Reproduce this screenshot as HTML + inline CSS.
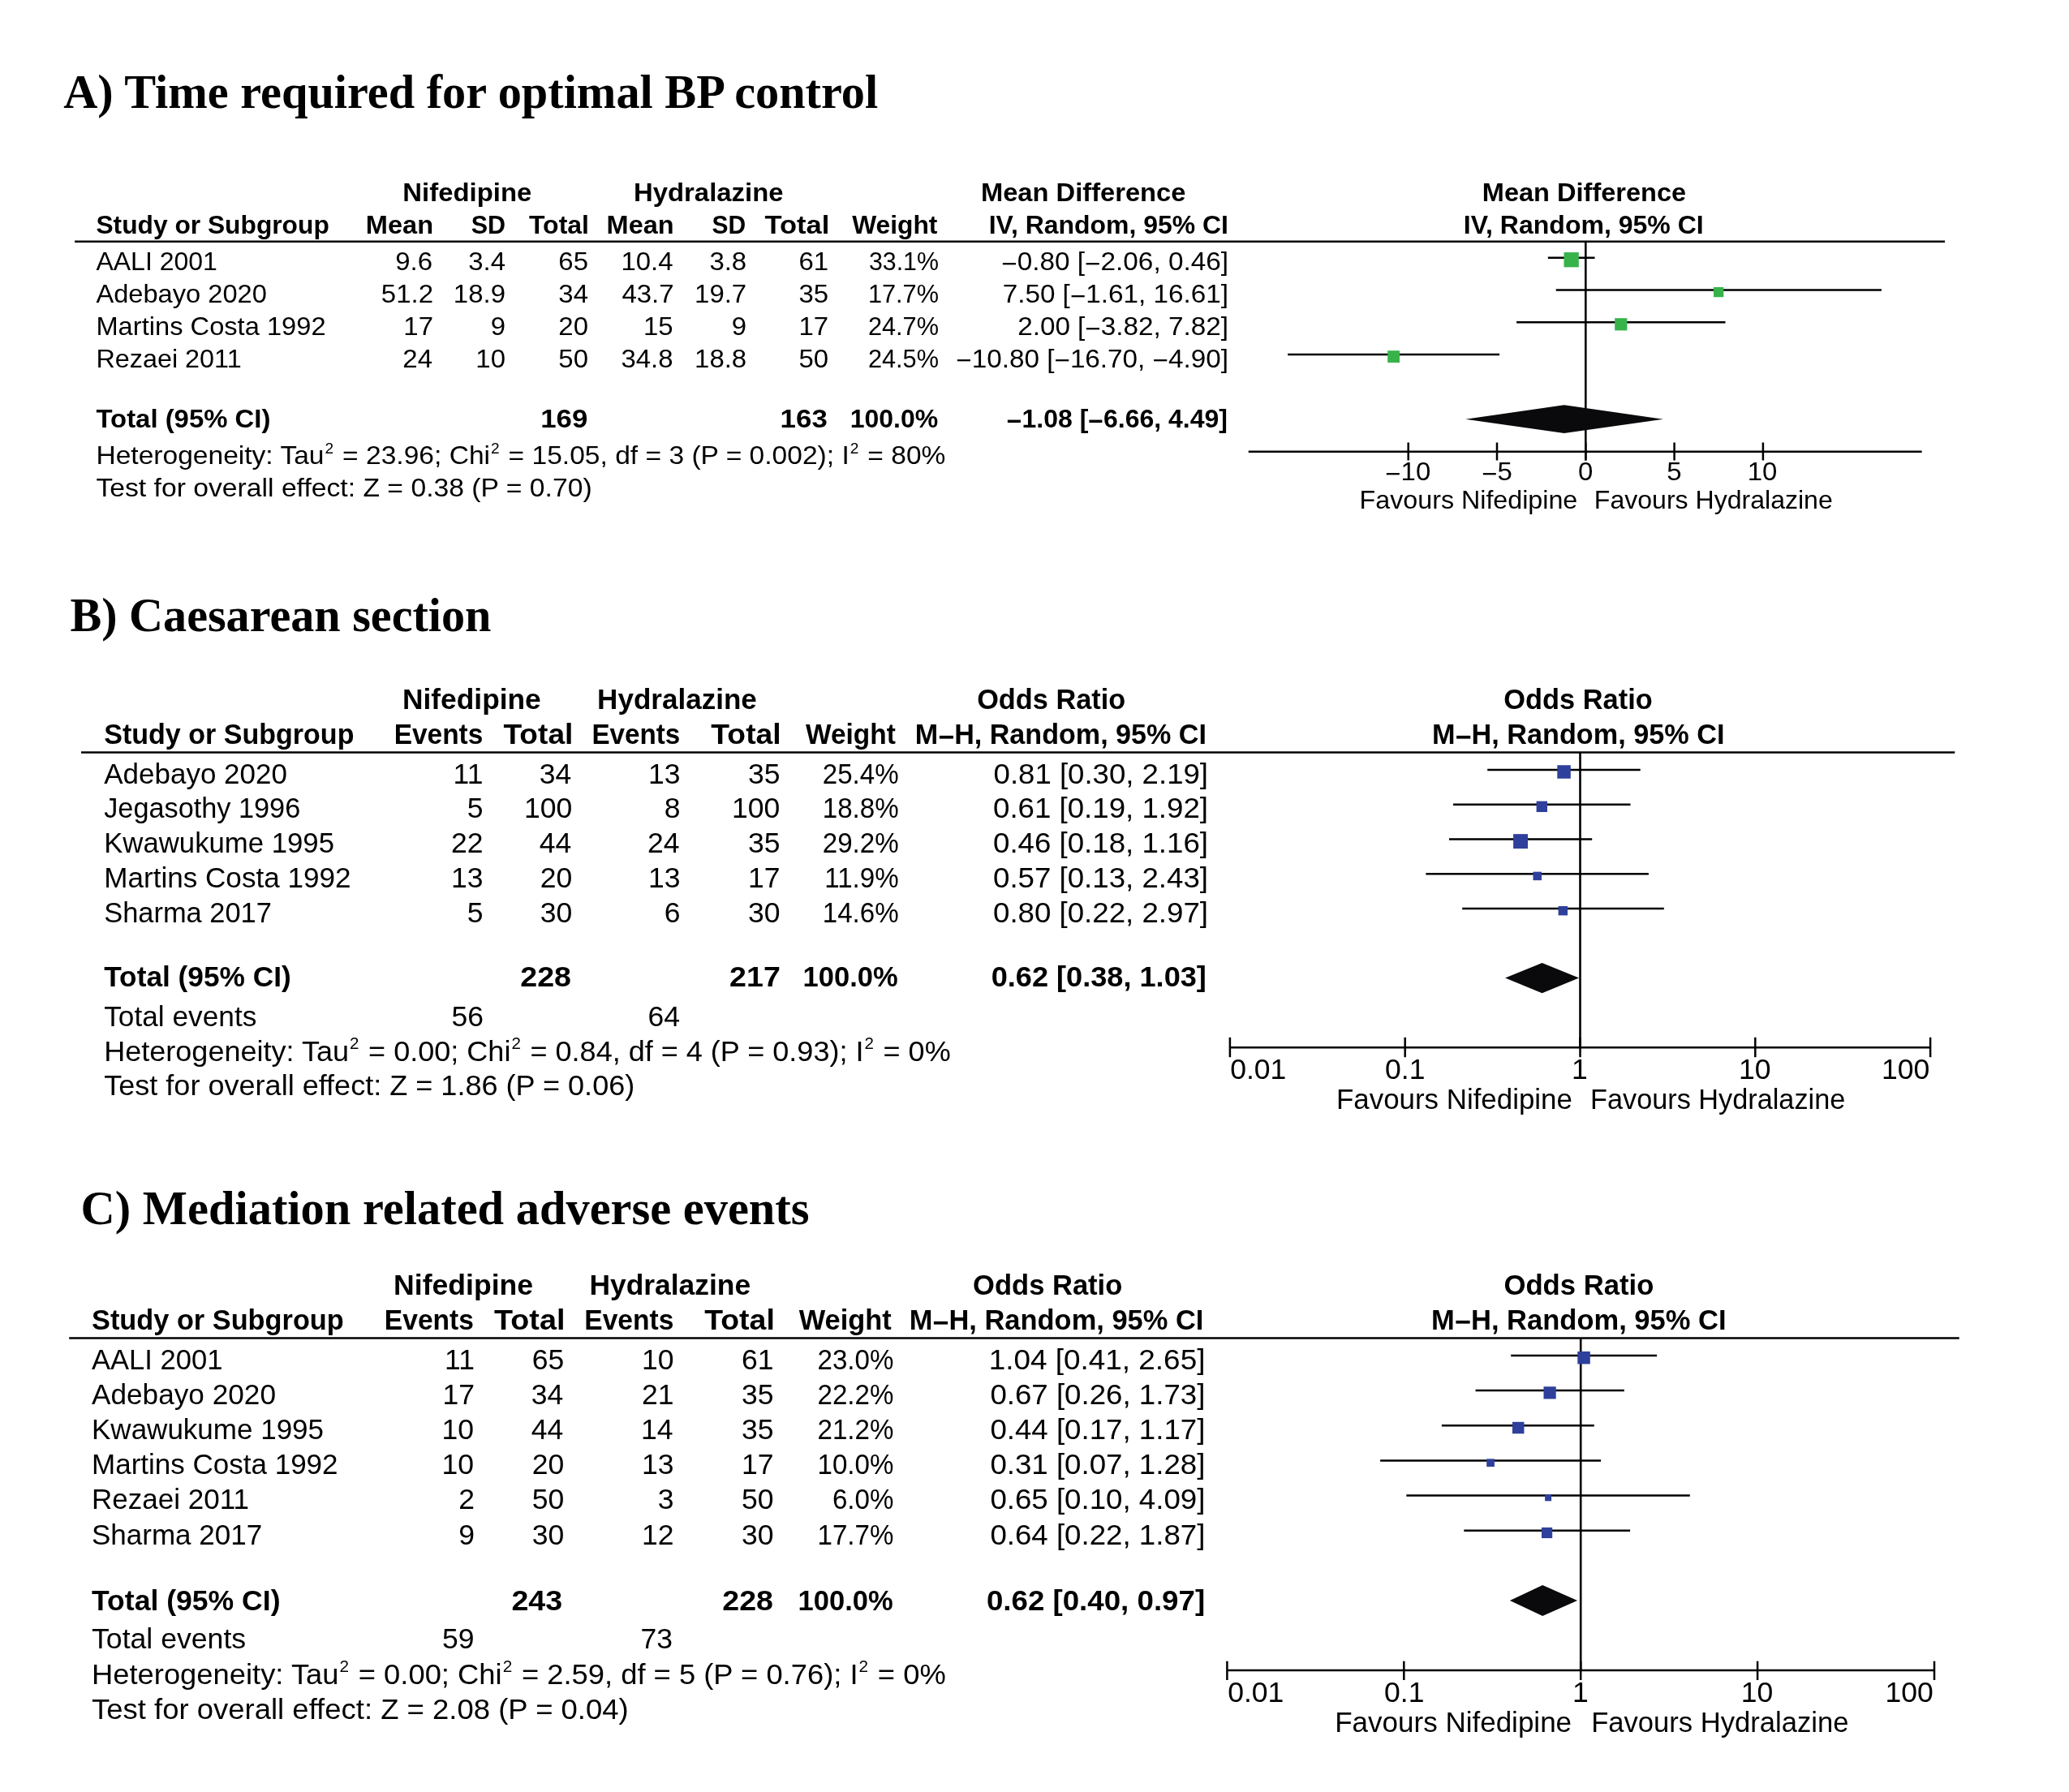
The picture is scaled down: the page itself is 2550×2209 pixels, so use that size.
<!DOCTYPE html>
<html><head><meta charset="utf-8"><style>
html,body{margin:0;padding:0;background:#fff;}
svg{display:block;will-change:transform;}
text{fill:#000;}
</style></head><body>
<svg width="2550" height="2209" viewBox="0 0 2550 2209">
<rect width="2550" height="2209" fill="#fff"/>
<g id="shapes">
<line x1="92.10" y1="297.70" x2="2397.00" y2="297.70" stroke="#000" stroke-width="2.5"/>
<line x1="1954.30" y1="297.70" x2="1954.30" y2="567.50" stroke="#000" stroke-width="2.6"/>
<line x1="1538.70" y1="556.70" x2="2368.60" y2="556.70" stroke="#000" stroke-width="2.5"/>
<line x1="1735.70" y1="545.50" x2="1735.70" y2="567.50" stroke="#000" stroke-width="2.5"/>
<line x1="1845.00" y1="545.50" x2="1845.00" y2="567.50" stroke="#000" stroke-width="2.5"/>
<line x1="1954.30" y1="545.50" x2="1954.30" y2="567.50" stroke="#000" stroke-width="2.5"/>
<line x1="2063.60" y1="545.50" x2="2063.60" y2="567.50" stroke="#000" stroke-width="2.5"/>
<line x1="2172.90" y1="545.50" x2="2172.90" y2="567.50" stroke="#000" stroke-width="2.5"/>
<line x1="1907.80" y1="317.70" x2="1965.50" y2="317.70" stroke="#000" stroke-width="2.5"/>
<rect x="1927.50" y="311.05" width="18.30" height="18.30" fill="#37b34a"/>
<line x1="1917.70" y1="357.40" x2="2318.90" y2="357.40" stroke="#000" stroke-width="2.5"/>
<rect x="2112.00" y="353.95" width="12.30" height="12.30" fill="#37b34a"/>
<line x1="1869.10" y1="397.30" x2="2126.50" y2="397.30" stroke="#000" stroke-width="2.5"/>
<rect x="1990.20" y="392.20" width="15.20" height="15.20" fill="#37b34a"/>
<line x1="1587.20" y1="437.10" x2="1848.10" y2="437.10" stroke="#000" stroke-width="2.5"/>
<rect x="1710.20" y="432.20" width="14.80" height="14.80" fill="#37b34a"/>
<polygon points="1806.30,516.70 1927.80,499.30 2049.90,516.70 1927.80,534.10" fill="#0a0a0c"/>
<line x1="100.00" y1="927.40" x2="2409.30" y2="927.40" stroke="#000" stroke-width="2.5"/>
<line x1="1947.50" y1="927.40" x2="1947.50" y2="1291.20" stroke="#000" stroke-width="2.6"/>
<line x1="1515.20" y1="1291.20" x2="2378.80" y2="1291.20" stroke="#000" stroke-width="2.5"/>
<line x1="1515.90" y1="1278.80" x2="1515.90" y2="1303.20" stroke="#000" stroke-width="2.5"/>
<line x1="1731.70" y1="1278.80" x2="1731.70" y2="1303.20" stroke="#000" stroke-width="2.5"/>
<line x1="1947.50" y1="1278.80" x2="1947.50" y2="1303.20" stroke="#000" stroke-width="2.5"/>
<line x1="2163.30" y1="1278.80" x2="2163.30" y2="1303.20" stroke="#000" stroke-width="2.5"/>
<line x1="2379.10" y1="1278.80" x2="2379.10" y2="1303.20" stroke="#000" stroke-width="2.5"/>
<line x1="1833.20" y1="948.90" x2="2021.70" y2="948.90" stroke="#000" stroke-width="2.5"/>
<rect x="1919.30" y="943.25" width="16.50" height="16.50" fill="#2e409b"/>
<line x1="1791.00" y1="991.70" x2="2009.50" y2="991.70" stroke="#000" stroke-width="2.5"/>
<rect x="1893.60" y="987.60" width="13.40" height="13.40" fill="#2e409b"/>
<line x1="1786.00" y1="1034.50" x2="1962.20" y2="1034.50" stroke="#000" stroke-width="2.5"/>
<rect x="1865.10" y="1028.15" width="17.90" height="17.90" fill="#2e409b"/>
<line x1="1757.40" y1="1077.30" x2="2031.90" y2="1077.30" stroke="#000" stroke-width="2.5"/>
<rect x="1889.50" y="1074.65" width="10.50" height="10.50" fill="#2e409b"/>
<line x1="1802.20" y1="1120.10" x2="2050.80" y2="1120.10" stroke="#000" stroke-width="2.5"/>
<rect x="1920.60" y="1117.00" width="11.40" height="11.40" fill="#2e409b"/>
<polygon points="1855.10,1205.60 1900.60,1186.90 1946.10,1205.60 1900.60,1224.30" fill="#0a0a0c"/>
<line x1="85.20" y1="1649.50" x2="2414.70" y2="1649.50" stroke="#000" stroke-width="2.5"/>
<line x1="1948.20" y1="1649.50" x2="1948.20" y2="2059.00" stroke="#000" stroke-width="2.6"/>
<line x1="1512.60" y1="2059.00" x2="2384.20" y2="2059.00" stroke="#000" stroke-width="2.5"/>
<line x1="1512.40" y1="2047.70" x2="1512.40" y2="2071.00" stroke="#000" stroke-width="2.5"/>
<line x1="1730.30" y1="2047.70" x2="1730.30" y2="2071.00" stroke="#000" stroke-width="2.5"/>
<line x1="1948.20" y1="2047.70" x2="1948.20" y2="2071.00" stroke="#000" stroke-width="2.5"/>
<line x1="2166.10" y1="2047.70" x2="2166.10" y2="2071.00" stroke="#000" stroke-width="2.5"/>
<line x1="2384.00" y1="2047.70" x2="2384.00" y2="2071.00" stroke="#000" stroke-width="2.5"/>
<line x1="1862.20" y1="1670.90" x2="2042.10" y2="1670.90" stroke="#000" stroke-width="2.5"/>
<rect x="1944.30" y="1665.95" width="15.50" height="15.50" fill="#2e409b"/>
<line x1="1818.60" y1="1714.06" x2="2001.80" y2="1714.06" stroke="#000" stroke-width="2.5"/>
<rect x="1902.50" y="1709.26" width="15.20" height="15.20" fill="#2e409b"/>
<line x1="1776.90" y1="1757.22" x2="1964.80" y2="1757.22" stroke="#000" stroke-width="2.5"/>
<rect x="1863.95" y="1752.77" width="14.50" height="14.50" fill="#2e409b"/>
<line x1="1701.10" y1="1800.38" x2="1973.10" y2="1800.38" stroke="#000" stroke-width="2.5"/>
<rect x="1832.20" y="1798.33" width="9.70" height="9.70" fill="#2e409b"/>
<line x1="1733.30" y1="1843.54" x2="2082.80" y2="1843.54" stroke="#000" stroke-width="2.5"/>
<rect x="1904.10" y="1842.34" width="8.00" height="8.00" fill="#2e409b"/>
<line x1="1804.30" y1="1886.70" x2="2009.10" y2="1886.70" stroke="#000" stroke-width="2.5"/>
<rect x="1900.00" y="1882.90" width="13.20" height="13.20" fill="#2e409b"/>
<polygon points="1860.90,1973.00 1901.20,1954.00 1944.10,1973.00 1901.20,1992.00" fill="#0a0a0c"/>
</g>
<g id="texts">
<text id="t0" transform="translate(78.20,132.80) scale(1.0000,1)" font-family="Liberation Serif" font-size="58.3" font-weight="bold" text-anchor="start">A) Time required for optimal BP control</text>
<text id="t1" transform="translate(86.40,777.70) scale(0.9977,1)" font-family="Liberation Serif" font-size="58.3" font-weight="bold" text-anchor="start">B) Caesarean section</text>
<text id="t2" transform="translate(99.59,1508.80) scale(1.0026,1)" font-family="Liberation Serif" font-size="58.3" font-weight="bold" text-anchor="start">C) Mediation related adverse events</text>
<text id="t3" transform="translate(575.83,248.20) scale(1.0284,1)" font-family="Liberation Sans" font-size="32" font-weight="bold" text-anchor="middle">Nifedipine</text>
<text id="t4" transform="translate(873.23,248.20) scale(1.0279,1)" font-family="Liberation Sans" font-size="32" font-weight="bold" text-anchor="middle">Hydralazine</text>
<text id="t5" transform="translate(1335.18,248.20) scale(1.0222,1)" font-family="Liberation Sans" font-size="32" font-weight="bold" text-anchor="middle">Mean Difference</text>
<text id="t6" transform="translate(1952.48,248.20) scale(1.0173,1)" font-family="Liberation Sans" font-size="32" font-weight="bold" text-anchor="middle">Mean Difference</text>
<text id="t7" transform="translate(118.40,288.30) scale(0.9924,1)" font-family="Liberation Sans" font-size="32" font-weight="bold" text-anchor="start">Study or Subgroup</text>
<text id="t8" transform="translate(534.04,288.30) scale(1.0182,1)" font-family="Liberation Sans" font-size="32" font-weight="bold" text-anchor="end">Mean</text>
<text id="t9" transform="translate(622.95,288.30) scale(0.9524,1)" font-family="Liberation Sans" font-size="32" font-weight="bold" text-anchor="end">SD</text>
<text id="t10" transform="translate(726.00,288.30) scale(1.0000,1)" font-family="Liberation Sans" font-size="32" font-weight="bold" text-anchor="end">Total</text>
<text id="t11" transform="translate(830.66,288.30) scale(1.0158,1)" font-family="Liberation Sans" font-size="32" font-weight="bold" text-anchor="end">Mean</text>
<text id="t12" transform="translate(919.16,288.30) scale(0.9376,1)" font-family="Liberation Sans" font-size="32" font-weight="bold" text-anchor="end">SD</text>
<text id="t13" transform="translate(1022.36,288.30) scale(1.0794,1)" font-family="Liberation Sans" font-size="32" font-weight="bold" text-anchor="end">Total</text>
<text id="t14" transform="translate(1155.40,288.30) scale(0.9925,1)" font-family="Liberation Sans" font-size="32" font-weight="bold" text-anchor="end">Weight</text>
<text id="t15" transform="translate(1514.00,288.30) scale(0.9990,1)" font-family="Liberation Sans" font-size="32" font-weight="bold" text-anchor="end">IV, Random, 95% CI</text>
<text id="t16" transform="translate(1951.70,288.30) scale(1.0007,1)" font-family="Liberation Sans" font-size="32" font-weight="bold" text-anchor="middle">IV, Random, 95% CI</text>
<text id="t17" transform="translate(118.40,333.40) scale(1.0002,1)" font-family="Liberation Sans" font-size="32" font-weight="normal" text-anchor="start">AALI 2001</text>
<text id="t18" transform="translate(533.00,333.40) scale(1.0300,1)" font-family="Liberation Sans" font-size="32" font-weight="normal" text-anchor="end">9.6</text>
<text id="t19" transform="translate(623.00,333.40) scale(1.0300,1)" font-family="Liberation Sans" font-size="32" font-weight="normal" text-anchor="end">3.4</text>
<text id="t20" transform="translate(725.00,333.40) scale(1.0300,1)" font-family="Liberation Sans" font-size="32" font-weight="normal" text-anchor="end">65</text>
<text id="t21" transform="translate(829.60,333.40) scale(1.0300,1)" font-family="Liberation Sans" font-size="32" font-weight="normal" text-anchor="end">10.4</text>
<text id="t22" transform="translate(920.20,333.40) scale(1.0300,1)" font-family="Liberation Sans" font-size="32" font-weight="normal" text-anchor="end">3.8</text>
<text id="t23" transform="translate(1021.20,333.40) scale(1.0300,1)" font-family="Liberation Sans" font-size="32" font-weight="normal" text-anchor="end">61</text>
<text id="t24" transform="translate(1156.99,333.40) scale(0.9487,1)" font-family="Liberation Sans" font-size="32" font-weight="normal" text-anchor="end">33.1%</text>
<text id="t25" transform="translate(1514.01,333.40) scale(1.0419,1)" font-family="Liberation Sans" font-size="32" font-weight="normal" text-anchor="end"><tspan baseline-shift="-2.50">−</tspan>0.80 [<tspan baseline-shift="-2.50">−</tspan>2.06, 0.46]</text>
<text id="t26" transform="translate(118.40,373.10) scale(1.0204,1)" font-family="Liberation Sans" font-size="32" font-weight="normal" text-anchor="start">Adebayo 2020</text>
<text id="t27" transform="translate(534.00,373.10) scale(1.0300,1)" font-family="Liberation Sans" font-size="32" font-weight="normal" text-anchor="end">51.2</text>
<text id="t28" transform="translate(623.00,373.10) scale(1.0300,1)" font-family="Liberation Sans" font-size="32" font-weight="normal" text-anchor="end">18.9</text>
<text id="t29" transform="translate(725.00,373.10) scale(1.0300,1)" font-family="Liberation Sans" font-size="32" font-weight="normal" text-anchor="end">34</text>
<text id="t30" transform="translate(830.60,373.10) scale(1.0300,1)" font-family="Liberation Sans" font-size="32" font-weight="normal" text-anchor="end">43.7</text>
<text id="t31" transform="translate(920.20,373.10) scale(1.0300,1)" font-family="Liberation Sans" font-size="32" font-weight="normal" text-anchor="end">19.7</text>
<text id="t32" transform="translate(1021.20,373.10) scale(1.0300,1)" font-family="Liberation Sans" font-size="32" font-weight="normal" text-anchor="end">35</text>
<text id="t33" transform="translate(1157.00,373.10) scale(0.9600,1)" font-family="Liberation Sans" font-size="32" font-weight="normal" text-anchor="end">17.7%</text>
<text id="t34" transform="translate(1514.00,373.10) scale(1.0400,1)" font-family="Liberation Sans" font-size="32" font-weight="normal" text-anchor="end">7.50 [<tspan baseline-shift="-2.50">−</tspan>1.61, 16.61]</text>
<text id="t35" transform="translate(118.40,412.80) scale(1.0208,1)" font-family="Liberation Sans" font-size="32" font-weight="normal" text-anchor="start">Martins Costa 1992</text>
<text id="t36" transform="translate(534.00,412.80) scale(1.0300,1)" font-family="Liberation Sans" font-size="32" font-weight="normal" text-anchor="end">17</text>
<text id="t37" transform="translate(623.00,412.80) scale(1.0300,1)" font-family="Liberation Sans" font-size="32" font-weight="normal" text-anchor="end">9</text>
<text id="t38" transform="translate(725.00,412.80) scale(1.0300,1)" font-family="Liberation Sans" font-size="32" font-weight="normal" text-anchor="end">20</text>
<text id="t39" transform="translate(829.60,412.80) scale(1.0300,1)" font-family="Liberation Sans" font-size="32" font-weight="normal" text-anchor="end">15</text>
<text id="t40" transform="translate(920.20,412.80) scale(1.0300,1)" font-family="Liberation Sans" font-size="32" font-weight="normal" text-anchor="end">9</text>
<text id="t41" transform="translate(1021.20,412.80) scale(1.0300,1)" font-family="Liberation Sans" font-size="32" font-weight="normal" text-anchor="end">17</text>
<text id="t42" transform="translate(1157.00,412.80) scale(0.9600,1)" font-family="Liberation Sans" font-size="32" font-weight="normal" text-anchor="end">24.7%</text>
<text id="t43" transform="translate(1514.00,412.80) scale(1.0400,1)" font-family="Liberation Sans" font-size="32" font-weight="normal" text-anchor="end">2.00 [<tspan baseline-shift="-2.50">−</tspan>3.82, 7.82]</text>
<text id="t44" transform="translate(118.40,452.50) scale(1.0116,1)" font-family="Liberation Sans" font-size="32" font-weight="normal" text-anchor="start">Rezaei 2011</text>
<text id="t45" transform="translate(533.00,452.50) scale(1.0300,1)" font-family="Liberation Sans" font-size="32" font-weight="normal" text-anchor="end">24</text>
<text id="t46" transform="translate(623.00,452.50) scale(1.0300,1)" font-family="Liberation Sans" font-size="32" font-weight="normal" text-anchor="end">10</text>
<text id="t47" transform="translate(725.00,452.50) scale(1.0300,1)" font-family="Liberation Sans" font-size="32" font-weight="normal" text-anchor="end">50</text>
<text id="t48" transform="translate(829.60,452.50) scale(1.0300,1)" font-family="Liberation Sans" font-size="32" font-weight="normal" text-anchor="end">34.8</text>
<text id="t49" transform="translate(920.20,452.50) scale(1.0300,1)" font-family="Liberation Sans" font-size="32" font-weight="normal" text-anchor="end">18.8</text>
<text id="t50" transform="translate(1021.20,452.50) scale(1.0300,1)" font-family="Liberation Sans" font-size="32" font-weight="normal" text-anchor="end">50</text>
<text id="t51" transform="translate(1157.00,452.50) scale(0.9600,1)" font-family="Liberation Sans" font-size="32" font-weight="normal" text-anchor="end">24.5%</text>
<text id="t52" transform="translate(1514.00,452.50) scale(1.0400,1)" font-family="Liberation Sans" font-size="32" font-weight="normal" text-anchor="end"><tspan baseline-shift="-2.50">−</tspan>10.80 [<tspan baseline-shift="-2.50">−</tspan>16.70, <tspan baseline-shift="-2.50">−</tspan>4.90]</text>
<text id="t53" transform="translate(118.40,526.80) scale(1.0285,1)" font-family="Liberation Sans" font-size="32" font-weight="bold" text-anchor="start">Total (95% CI)</text>
<text id="t54" transform="translate(724.40,526.80) scale(1.0900,1)" font-family="Liberation Sans" font-size="32" font-weight="bold" text-anchor="end">169</text>
<text id="t55" transform="translate(1019.80,526.80) scale(1.0900,1)" font-family="Liberation Sans" font-size="32" font-weight="bold" text-anchor="end">163</text>
<text id="t56" transform="translate(1156.20,526.80) scale(1.0000,1)" font-family="Liberation Sans" font-size="32" font-weight="bold" text-anchor="end">100.0%</text>
<text id="t57" transform="translate(1513.00,526.80) scale(1.0000,1)" font-family="Liberation Sans" font-size="32" font-weight="bold" text-anchor="end"><tspan baseline-shift="-2.50">−</tspan>1.08 [<tspan baseline-shift="-2.50">−</tspan>6.66, 4.49]</text>
<text id="t58" transform="translate(118.40,572.20) scale(1.0494,1)" font-family="Liberation Sans" font-size="32" font-weight="normal" text-anchor="start">Heterogeneity: Tau<tspan dx="1" dy="-13.4" font-size="18.2">2</tspan><tspan dx="1.5" dy="13.4"> </tspan>= 23.96; Chi<tspan dx="1" dy="-13.4" font-size="18.2">2</tspan><tspan dx="1.5" dy="13.4"> </tspan>= 15.05, df = 3 (P = 0.002); I<tspan dx="1" dy="-13.4" font-size="18.2">2</tspan><tspan dx="1.5" dy="13.4"> </tspan>= 80%</text>
<text id="t59" transform="translate(118.40,611.90) scale(1.0531,1)" font-family="Liberation Sans" font-size="32" font-weight="normal" text-anchor="start">Test for overall effect: Z = 0.38 (P = 0.70)</text>
<text id="t60" transform="translate(1735.30,591.90) scale(1.0300,1)" font-family="Liberation Sans" font-size="32" font-weight="normal" text-anchor="middle"><tspan baseline-shift="-2.50">−</tspan>10</text>
<text id="t61" transform="translate(1845.00,591.90) scale(1.0300,1)" font-family="Liberation Sans" font-size="32" font-weight="normal" text-anchor="middle"><tspan baseline-shift="-2.50">−</tspan>5</text>
<text id="t62" transform="translate(1954.20,591.90) scale(1.0300,1)" font-family="Liberation Sans" font-size="32" font-weight="normal" text-anchor="middle">0</text>
<text id="t63" transform="translate(2063.40,591.90) scale(1.0300,1)" font-family="Liberation Sans" font-size="32" font-weight="normal" text-anchor="middle">5</text>
<text id="t64" transform="translate(2172.10,591.90) scale(1.0300,1)" font-family="Liberation Sans" font-size="32" font-weight="normal" text-anchor="middle">10</text>
<text id="t65" transform="translate(1675.62,626.50) scale(1.0070,1)" font-family="Liberation Sans" font-size="32" font-weight="normal" text-anchor="start">Favours Nifedipine</text>
<text id="t66" transform="translate(1964.83,626.50) scale(1.0022,1)" font-family="Liberation Sans" font-size="32" font-weight="normal" text-anchor="start">Favours Hydralazine</text>
<text id="t67" transform="translate(581.38,874.30) scale(1.0239,1)" font-family="Liberation Sans" font-size="34.5" font-weight="bold" text-anchor="middle">Nifedipine</text>
<text id="t68" transform="translate(834.47,874.30) scale(1.0160,1)" font-family="Liberation Sans" font-size="34.5" font-weight="bold" text-anchor="middle">Hydralazine</text>
<text id="t69" transform="translate(1295.70,874.30) scale(0.9951,1)" font-family="Liberation Sans" font-size="34.5" font-weight="bold" text-anchor="middle">Odds Ratio</text>
<text id="t70" transform="translate(1945.00,874.30) scale(0.9968,1)" font-family="Liberation Sans" font-size="34.5" font-weight="bold" text-anchor="middle">Odds Ratio</text>
<text id="t71" transform="translate(128.20,916.60) scale(0.9871,1)" font-family="Liberation Sans" font-size="34.5" font-weight="bold" text-anchor="start">Study or Subgroup</text>
<text id="t72" transform="translate(595.37,916.60) scale(0.9700,1)" font-family="Liberation Sans" font-size="34.5" font-weight="bold" text-anchor="end">Events</text>
<text id="t73" transform="translate(706.35,916.60) scale(1.0762,1)" font-family="Liberation Sans" font-size="34.5" font-weight="bold" text-anchor="end">Total</text>
<text id="t74" transform="translate(838.35,916.60) scale(0.9626,1)" font-family="Liberation Sans" font-size="34.5" font-weight="bold" text-anchor="end">Events</text>
<text id="t75" transform="translate(962.64,916.60) scale(1.0813,1)" font-family="Liberation Sans" font-size="34.5" font-weight="bold" text-anchor="end">Total</text>
<text id="t76" transform="translate(1103.79,916.60) scale(0.9686,1)" font-family="Liberation Sans" font-size="34.5" font-weight="bold" text-anchor="end">Weight</text>
<text id="t77" transform="translate(1486.98,916.60) scale(0.9891,1)" font-family="Liberation Sans" font-size="34.5" font-weight="bold" text-anchor="end">M<tspan baseline-shift="-2.69">−</tspan>H, Random, 95% CI</text>
<text id="t78" transform="translate(1945.20,916.60) scale(0.9925,1)" font-family="Liberation Sans" font-size="34.5" font-weight="bold" text-anchor="middle">M<tspan baseline-shift="-2.69">−</tspan>H, Random, 95% CI</text>
<text id="t79" transform="translate(128.20,965.50) scale(1.0146,1)" font-family="Liberation Sans" font-size="34.5" font-weight="normal" text-anchor="start">Adebayo 2020</text>
<text id="t80" transform="translate(595.40,965.50) scale(1.0300,1)" font-family="Liberation Sans" font-size="34.5" font-weight="normal" text-anchor="end">11</text>
<text id="t81" transform="translate(704.20,965.50) scale(1.0300,1)" font-family="Liberation Sans" font-size="34.5" font-weight="normal" text-anchor="end">34</text>
<text id="t82" transform="translate(838.40,965.50) scale(1.0300,1)" font-family="Liberation Sans" font-size="34.5" font-weight="normal" text-anchor="end">13</text>
<text id="t83" transform="translate(961.40,965.50) scale(1.0300,1)" font-family="Liberation Sans" font-size="34.5" font-weight="normal" text-anchor="end">35</text>
<text id="t84" transform="translate(1107.60,965.50) scale(0.9600,1)" font-family="Liberation Sans" font-size="34.5" font-weight="normal" text-anchor="end">25.4%</text>
<text id="t85" transform="translate(1488.99,965.50) scale(1.0610,1)" font-family="Liberation Sans" font-size="34.5" font-weight="normal" text-anchor="end">0.81 [0.30, 2.19]</text>
<text id="t86" transform="translate(128.20,1008.35) scale(0.9940,1)" font-family="Liberation Sans" font-size="34.5" font-weight="normal" text-anchor="start">Jegasothy 1996</text>
<text id="t87" transform="translate(595.40,1008.35) scale(1.0300,1)" font-family="Liberation Sans" font-size="34.5" font-weight="normal" text-anchor="end">5</text>
<text id="t88" transform="translate(705.20,1008.35) scale(1.0300,1)" font-family="Liberation Sans" font-size="34.5" font-weight="normal" text-anchor="end">100</text>
<text id="t89" transform="translate(838.40,1008.35) scale(1.0300,1)" font-family="Liberation Sans" font-size="34.5" font-weight="normal" text-anchor="end">8</text>
<text id="t90" transform="translate(961.40,1008.35) scale(1.0300,1)" font-family="Liberation Sans" font-size="34.5" font-weight="normal" text-anchor="end">100</text>
<text id="t91" transform="translate(1107.60,1008.35) scale(0.9600,1)" font-family="Liberation Sans" font-size="34.5" font-weight="normal" text-anchor="end">18.8%</text>
<text id="t92" transform="translate(1489.00,1008.35) scale(1.0630,1)" font-family="Liberation Sans" font-size="34.5" font-weight="normal" text-anchor="end">0.61 [0.19, 1.92]</text>
<text id="t93" transform="translate(128.20,1051.20) scale(1.0068,1)" font-family="Liberation Sans" font-size="34.5" font-weight="normal" text-anchor="start">Kwawukume 1995</text>
<text id="t94" transform="translate(595.40,1051.20) scale(1.0300,1)" font-family="Liberation Sans" font-size="34.5" font-weight="normal" text-anchor="end">22</text>
<text id="t95" transform="translate(704.20,1051.20) scale(1.0300,1)" font-family="Liberation Sans" font-size="34.5" font-weight="normal" text-anchor="end">44</text>
<text id="t96" transform="translate(837.40,1051.20) scale(1.0300,1)" font-family="Liberation Sans" font-size="34.5" font-weight="normal" text-anchor="end">24</text>
<text id="t97" transform="translate(961.40,1051.20) scale(1.0300,1)" font-family="Liberation Sans" font-size="34.5" font-weight="normal" text-anchor="end">35</text>
<text id="t98" transform="translate(1107.60,1051.20) scale(0.9600,1)" font-family="Liberation Sans" font-size="34.5" font-weight="normal" text-anchor="end">29.2%</text>
<text id="t99" transform="translate(1489.00,1051.20) scale(1.0630,1)" font-family="Liberation Sans" font-size="34.5" font-weight="normal" text-anchor="end">0.46 [0.18, 1.16]</text>
<text id="t100" transform="translate(128.20,1094.05) scale(1.0177,1)" font-family="Liberation Sans" font-size="34.5" font-weight="normal" text-anchor="start">Martins Costa 1992</text>
<text id="t101" transform="translate(595.40,1094.05) scale(1.0300,1)" font-family="Liberation Sans" font-size="34.5" font-weight="normal" text-anchor="end">13</text>
<text id="t102" transform="translate(705.20,1094.05) scale(1.0300,1)" font-family="Liberation Sans" font-size="34.5" font-weight="normal" text-anchor="end">20</text>
<text id="t103" transform="translate(838.40,1094.05) scale(1.0300,1)" font-family="Liberation Sans" font-size="34.5" font-weight="normal" text-anchor="end">13</text>
<text id="t104" transform="translate(961.40,1094.05) scale(1.0300,1)" font-family="Liberation Sans" font-size="34.5" font-weight="normal" text-anchor="end">17</text>
<text id="t105" transform="translate(1107.60,1094.05) scale(0.9600,1)" font-family="Liberation Sans" font-size="34.5" font-weight="normal" text-anchor="end">11.9%</text>
<text id="t106" transform="translate(1489.00,1094.05) scale(1.0630,1)" font-family="Liberation Sans" font-size="34.5" font-weight="normal" text-anchor="end">0.57 [0.13, 2.43]</text>
<text id="t107" transform="translate(128.20,1136.90) scale(0.9980,1)" font-family="Liberation Sans" font-size="34.5" font-weight="normal" text-anchor="start">Sharma 2017</text>
<text id="t108" transform="translate(595.40,1136.90) scale(1.0300,1)" font-family="Liberation Sans" font-size="34.5" font-weight="normal" text-anchor="end">5</text>
<text id="t109" transform="translate(705.20,1136.90) scale(1.0300,1)" font-family="Liberation Sans" font-size="34.5" font-weight="normal" text-anchor="end">30</text>
<text id="t110" transform="translate(838.40,1136.90) scale(1.0300,1)" font-family="Liberation Sans" font-size="34.5" font-weight="normal" text-anchor="end">6</text>
<text id="t111" transform="translate(961.40,1136.90) scale(1.0300,1)" font-family="Liberation Sans" font-size="34.5" font-weight="normal" text-anchor="end">30</text>
<text id="t112" transform="translate(1107.60,1136.90) scale(0.9600,1)" font-family="Liberation Sans" font-size="34.5" font-weight="normal" text-anchor="end">14.6%</text>
<text id="t113" transform="translate(1489.00,1136.90) scale(1.0630,1)" font-family="Liberation Sans" font-size="34.5" font-weight="normal" text-anchor="end">0.80 [0.22, 2.97]</text>
<text id="t114" transform="translate(128.20,1215.80) scale(1.0223,1)" font-family="Liberation Sans" font-size="34.5" font-weight="bold" text-anchor="start">Total (95% CI)</text>
<text id="t115" transform="translate(704.00,1215.80) scale(1.0900,1)" font-family="Liberation Sans" font-size="34.5" font-weight="bold" text-anchor="end">228</text>
<text id="t116" transform="translate(961.80,1215.80) scale(1.0900,1)" font-family="Liberation Sans" font-size="34.5" font-weight="bold" text-anchor="end">217</text>
<text id="t117" transform="translate(1106.60,1215.80) scale(1.0000,1)" font-family="Liberation Sans" font-size="34.5" font-weight="bold" text-anchor="end">100.0%</text>
<text id="t118" transform="translate(1486.91,1215.80) scale(1.0476,1)" font-family="Liberation Sans" font-size="34.5" font-weight="bold" text-anchor="end">0.62 [0.38, 1.03]</text>
<text id="t119" transform="translate(128.20,1264.70) scale(1.0227,1)" font-family="Liberation Sans" font-size="34.5" font-weight="normal" text-anchor="start">Total events</text>
<text id="t120" transform="translate(596.00,1264.70) scale(1.0300,1)" font-family="Liberation Sans" font-size="34.5" font-weight="normal" text-anchor="end">56</text>
<text id="t121" transform="translate(838.00,1264.70) scale(1.0300,1)" font-family="Liberation Sans" font-size="34.5" font-weight="normal" text-anchor="end">64</text>
<text id="t122" transform="translate(128.20,1307.80) scale(1.0451,1)" font-family="Liberation Sans" font-size="34.5" font-weight="normal" text-anchor="start">Heterogeneity: Tau<tspan dx="1" dy="-14.5" font-size="19.7">2</tspan><tspan dx="1.5" dy="14.5"> </tspan>= 0.00; Chi<tspan dx="1" dy="-14.5" font-size="19.7">2</tspan><tspan dx="1.5" dy="14.5"> </tspan>= 0.84, df = 4 (P = 0.93); I<tspan dx="1" dy="-14.5" font-size="19.7">2</tspan><tspan dx="1.5" dy="14.5"> </tspan>= 0%</text>
<text id="t123" transform="translate(128.20,1349.50) scale(1.0455,1)" font-family="Liberation Sans" font-size="34.5" font-weight="normal" text-anchor="start">Test for overall effect: Z = 1.86 (P = 0.06)</text>
<text id="t124" transform="translate(1516.20,1329.60) scale(1.0300,1)" font-family="Liberation Sans" font-size="34.5" font-weight="normal" text-anchor="start">0.01</text>
<text id="t125" transform="translate(1731.80,1329.60) scale(1.0300,1)" font-family="Liberation Sans" font-size="34.5" font-weight="normal" text-anchor="middle">0.1</text>
<text id="t126" transform="translate(1947.00,1329.60) scale(1.0300,1)" font-family="Liberation Sans" font-size="34.5" font-weight="normal" text-anchor="middle">1</text>
<text id="t127" transform="translate(2162.70,1329.60) scale(1.0300,1)" font-family="Liberation Sans" font-size="34.5" font-weight="normal" text-anchor="middle">10</text>
<text id="t128" transform="translate(2378.20,1329.60) scale(1.0300,1)" font-family="Liberation Sans" font-size="34.5" font-weight="normal" text-anchor="end">100</text>
<text id="t129" transform="translate(1647.01,1366.60) scale(1.0115,1)" font-family="Liberation Sans" font-size="34.5" font-weight="normal" text-anchor="start">Favours Nifedipine</text>
<text id="t130" transform="translate(1960.06,1366.60) scale(0.9936,1)" font-family="Liberation Sans" font-size="34.5" font-weight="normal" text-anchor="start">Favours Hydralazine</text>
<text id="t131" transform="translate(571.07,1596.20) scale(1.0313,1)" font-family="Liberation Sans" font-size="34.5" font-weight="bold" text-anchor="middle">Nifedipine</text>
<text id="t132" transform="translate(825.78,1596.20) scale(1.0269,1)" font-family="Liberation Sans" font-size="34.5" font-weight="bold" text-anchor="middle">Hydralazine</text>
<text id="t133" transform="translate(1291.20,1596.20) scale(1.0017,1)" font-family="Liberation Sans" font-size="34.5" font-weight="bold" text-anchor="middle">Odds Ratio</text>
<text id="t134" transform="translate(1945.90,1596.20) scale(1.0056,1)" font-family="Liberation Sans" font-size="34.5" font-weight="bold" text-anchor="middle">Odds Ratio</text>
<text id="t135" transform="translate(113.00,1638.50) scale(0.9952,1)" font-family="Liberation Sans" font-size="34.5" font-weight="bold" text-anchor="start">Study or Subgroup</text>
<text id="t136" transform="translate(583.99,1638.50) scale(0.9738,1)" font-family="Liberation Sans" font-size="34.5" font-weight="bold" text-anchor="end">Events</text>
<text id="t137" transform="translate(696.39,1638.50) scale(1.0940,1)" font-family="Liberation Sans" font-size="34.5" font-weight="bold" text-anchor="end">Total</text>
<text id="t138" transform="translate(830.37,1638.50) scale(0.9735,1)" font-family="Liberation Sans" font-size="34.5" font-weight="bold" text-anchor="end">Events</text>
<text id="t139" transform="translate(954.80,1638.50) scale(1.0855,1)" font-family="Liberation Sans" font-size="34.5" font-weight="bold" text-anchor="end">Total</text>
<text id="t140" transform="translate(1098.63,1638.50) scale(0.9961,1)" font-family="Liberation Sans" font-size="34.5" font-weight="bold" text-anchor="end">Weight</text>
<text id="t141" transform="translate(1483.40,1638.50) scale(0.9989,1)" font-family="Liberation Sans" font-size="34.5" font-weight="bold" text-anchor="end">M<tspan baseline-shift="-2.69">−</tspan>H, Random, 95% CI</text>
<text id="t142" transform="translate(1945.80,1638.50) scale(1.0003,1)" font-family="Liberation Sans" font-size="34.5" font-weight="bold" text-anchor="middle">M<tspan baseline-shift="-2.69">−</tspan>H, Random, 95% CI</text>
<text id="t143" transform="translate(113.00,1687.80) scale(1.0025,1)" font-family="Liberation Sans" font-size="34.5" font-weight="normal" text-anchor="start">AALI 2001</text>
<text id="t144" transform="translate(585.00,1687.80) scale(1.0300,1)" font-family="Liberation Sans" font-size="34.5" font-weight="normal" text-anchor="end">11</text>
<text id="t145" transform="translate(695.20,1687.80) scale(1.0300,1)" font-family="Liberation Sans" font-size="34.5" font-weight="normal" text-anchor="end">65</text>
<text id="t146" transform="translate(830.40,1687.80) scale(1.0300,1)" font-family="Liberation Sans" font-size="34.5" font-weight="normal" text-anchor="end">10</text>
<text id="t147" transform="translate(953.60,1687.80) scale(1.0300,1)" font-family="Liberation Sans" font-size="34.5" font-weight="normal" text-anchor="end">61</text>
<text id="t148" transform="translate(1101.40,1687.80) scale(0.9600,1)" font-family="Liberation Sans" font-size="34.5" font-weight="normal" text-anchor="end">23.0%</text>
<text id="t149" transform="translate(1485.42,1687.80) scale(1.0700,1)" font-family="Liberation Sans" font-size="34.5" font-weight="normal" text-anchor="end">1.04 [0.41, 2.65]</text>
<text id="t150" transform="translate(113.00,1730.96) scale(1.0205,1)" font-family="Liberation Sans" font-size="34.5" font-weight="normal" text-anchor="start">Adebayo 2020</text>
<text id="t151" transform="translate(585.00,1730.96) scale(1.0300,1)" font-family="Liberation Sans" font-size="34.5" font-weight="normal" text-anchor="end">17</text>
<text id="t152" transform="translate(694.20,1730.96) scale(1.0300,1)" font-family="Liberation Sans" font-size="34.5" font-weight="normal" text-anchor="end">34</text>
<text id="t153" transform="translate(830.40,1730.96) scale(1.0300,1)" font-family="Liberation Sans" font-size="34.5" font-weight="normal" text-anchor="end">21</text>
<text id="t154" transform="translate(953.60,1730.96) scale(1.0300,1)" font-family="Liberation Sans" font-size="34.5" font-weight="normal" text-anchor="end">35</text>
<text id="t155" transform="translate(1101.40,1730.96) scale(0.9600,1)" font-family="Liberation Sans" font-size="34.5" font-weight="normal" text-anchor="end">22.2%</text>
<text id="t156" transform="translate(1485.40,1730.96) scale(1.0630,1)" font-family="Liberation Sans" font-size="34.5" font-weight="normal" text-anchor="end">0.67 [0.26, 1.73]</text>
<text id="t157" transform="translate(113.00,1774.12) scale(1.0150,1)" font-family="Liberation Sans" font-size="34.5" font-weight="normal" text-anchor="start">Kwawukume 1995</text>
<text id="t158" transform="translate(584.00,1774.12) scale(1.0300,1)" font-family="Liberation Sans" font-size="34.5" font-weight="normal" text-anchor="end">10</text>
<text id="t159" transform="translate(694.20,1774.12) scale(1.0300,1)" font-family="Liberation Sans" font-size="34.5" font-weight="normal" text-anchor="end">44</text>
<text id="t160" transform="translate(829.40,1774.12) scale(1.0300,1)" font-family="Liberation Sans" font-size="34.5" font-weight="normal" text-anchor="end">14</text>
<text id="t161" transform="translate(953.60,1774.12) scale(1.0300,1)" font-family="Liberation Sans" font-size="34.5" font-weight="normal" text-anchor="end">35</text>
<text id="t162" transform="translate(1101.40,1774.12) scale(0.9600,1)" font-family="Liberation Sans" font-size="34.5" font-weight="normal" text-anchor="end">21.2%</text>
<text id="t163" transform="translate(1485.40,1774.12) scale(1.0630,1)" font-family="Liberation Sans" font-size="34.5" font-weight="normal" text-anchor="end">0.44 [0.17, 1.17]</text>
<text id="t164" transform="translate(113.00,1817.28) scale(1.0150,1)" font-family="Liberation Sans" font-size="34.5" font-weight="normal" text-anchor="start">Martins Costa 1992</text>
<text id="t165" transform="translate(584.00,1817.28) scale(1.0300,1)" font-family="Liberation Sans" font-size="34.5" font-weight="normal" text-anchor="end">10</text>
<text id="t166" transform="translate(695.20,1817.28) scale(1.0300,1)" font-family="Liberation Sans" font-size="34.5" font-weight="normal" text-anchor="end">20</text>
<text id="t167" transform="translate(830.40,1817.28) scale(1.0300,1)" font-family="Liberation Sans" font-size="34.5" font-weight="normal" text-anchor="end">13</text>
<text id="t168" transform="translate(953.60,1817.28) scale(1.0300,1)" font-family="Liberation Sans" font-size="34.5" font-weight="normal" text-anchor="end">17</text>
<text id="t169" transform="translate(1101.40,1817.28) scale(0.9600,1)" font-family="Liberation Sans" font-size="34.5" font-weight="normal" text-anchor="end">10.0%</text>
<text id="t170" transform="translate(1485.40,1817.28) scale(1.0630,1)" font-family="Liberation Sans" font-size="34.5" font-weight="normal" text-anchor="end">0.31 [0.07, 1.28]</text>
<text id="t171" transform="translate(113.00,1860.44) scale(1.0150,1)" font-family="Liberation Sans" font-size="34.5" font-weight="normal" text-anchor="start">Rezaei 2011</text>
<text id="t172" transform="translate(585.00,1860.44) scale(1.0300,1)" font-family="Liberation Sans" font-size="34.5" font-weight="normal" text-anchor="end">2</text>
<text id="t173" transform="translate(695.20,1860.44) scale(1.0300,1)" font-family="Liberation Sans" font-size="34.5" font-weight="normal" text-anchor="end">50</text>
<text id="t174" transform="translate(830.40,1860.44) scale(1.0300,1)" font-family="Liberation Sans" font-size="34.5" font-weight="normal" text-anchor="end">3</text>
<text id="t175" transform="translate(953.60,1860.44) scale(1.0300,1)" font-family="Liberation Sans" font-size="34.5" font-weight="normal" text-anchor="end">50</text>
<text id="t176" transform="translate(1101.40,1860.44) scale(0.9600,1)" font-family="Liberation Sans" font-size="34.5" font-weight="normal" text-anchor="end">6.0%</text>
<text id="t177" transform="translate(1485.40,1860.44) scale(1.0630,1)" font-family="Liberation Sans" font-size="34.5" font-weight="normal" text-anchor="end">0.65 [0.10, 4.09]</text>
<text id="t178" transform="translate(113.00,1903.60) scale(1.0150,1)" font-family="Liberation Sans" font-size="34.5" font-weight="normal" text-anchor="start">Sharma 2017</text>
<text id="t179" transform="translate(585.00,1903.60) scale(1.0300,1)" font-family="Liberation Sans" font-size="34.5" font-weight="normal" text-anchor="end">9</text>
<text id="t180" transform="translate(695.20,1903.60) scale(1.0300,1)" font-family="Liberation Sans" font-size="34.5" font-weight="normal" text-anchor="end">30</text>
<text id="t181" transform="translate(830.40,1903.60) scale(1.0300,1)" font-family="Liberation Sans" font-size="34.5" font-weight="normal" text-anchor="end">12</text>
<text id="t182" transform="translate(953.60,1903.60) scale(1.0300,1)" font-family="Liberation Sans" font-size="34.5" font-weight="normal" text-anchor="end">30</text>
<text id="t183" transform="translate(1101.40,1903.60) scale(0.9600,1)" font-family="Liberation Sans" font-size="34.5" font-weight="normal" text-anchor="end">17.7%</text>
<text id="t184" transform="translate(1485.40,1903.60) scale(1.0630,1)" font-family="Liberation Sans" font-size="34.5" font-weight="normal" text-anchor="end">0.64 [0.22, 1.87]</text>
<text id="t185" transform="translate(113.00,1984.60) scale(1.0312,1)" font-family="Liberation Sans" font-size="34.5" font-weight="bold" text-anchor="start">Total (95% CI)</text>
<text id="t186" transform="translate(693.20,1984.60) scale(1.0900,1)" font-family="Liberation Sans" font-size="34.5" font-weight="bold" text-anchor="end">243</text>
<text id="t187" transform="translate(953.00,1984.60) scale(1.0900,1)" font-family="Liberation Sans" font-size="34.5" font-weight="bold" text-anchor="end">228</text>
<text id="t188" transform="translate(1100.60,1984.60) scale(1.0000,1)" font-family="Liberation Sans" font-size="34.5" font-weight="bold" text-anchor="end">100.0%</text>
<text id="t189" transform="translate(1485.13,1984.60) scale(1.0636,1)" font-family="Liberation Sans" font-size="34.5" font-weight="bold" text-anchor="end">0.62 [0.40, 0.97]</text>
<text id="t190" transform="translate(113.00,2032.10) scale(1.0331,1)" font-family="Liberation Sans" font-size="34.5" font-weight="normal" text-anchor="start">Total events</text>
<text id="t191" transform="translate(584.40,2032.10) scale(1.0300,1)" font-family="Liberation Sans" font-size="34.5" font-weight="normal" text-anchor="end">59</text>
<text id="t192" transform="translate(829.00,2032.10) scale(1.0300,1)" font-family="Liberation Sans" font-size="34.5" font-weight="normal" text-anchor="end">73</text>
<text id="t193" transform="translate(113.00,2075.70) scale(1.0538,1)" font-family="Liberation Sans" font-size="34.5" font-weight="normal" text-anchor="start">Heterogeneity: Tau<tspan dx="1" dy="-14.5" font-size="19.7">2</tspan><tspan dx="1.5" dy="14.5"> </tspan>= 0.00; Chi<tspan dx="1" dy="-14.5" font-size="19.7">2</tspan><tspan dx="1.5" dy="14.5"> </tspan>= 2.59, df = 5 (P = 0.76); I<tspan dx="1" dy="-14.5" font-size="19.7">2</tspan><tspan dx="1.5" dy="14.5"> </tspan>= 0%</text>
<text id="t194" transform="translate(113.00,2118.60) scale(1.0577,1)" font-family="Liberation Sans" font-size="34.5" font-weight="normal" text-anchor="start">Test for overall effect: Z = 2.08 (P = 0.04)</text>
<text id="t195" transform="translate(1513.20,2098.00) scale(1.0300,1)" font-family="Liberation Sans" font-size="34.5" font-weight="normal" text-anchor="start">0.01</text>
<text id="t196" transform="translate(1730.70,2098.00) scale(1.0300,1)" font-family="Liberation Sans" font-size="34.5" font-weight="normal" text-anchor="middle">0.1</text>
<text id="t197" transform="translate(1947.80,2098.00) scale(1.0300,1)" font-family="Liberation Sans" font-size="34.5" font-weight="normal" text-anchor="middle">1</text>
<text id="t198" transform="translate(2165.40,2098.00) scale(1.0300,1)" font-family="Liberation Sans" font-size="34.5" font-weight="normal" text-anchor="middle">10</text>
<text id="t199" transform="translate(2382.80,2098.00) scale(1.0300,1)" font-family="Liberation Sans" font-size="34.5" font-weight="normal" text-anchor="end">100</text>
<text id="t200" transform="translate(1645.20,2135.40) scale(1.0150,1)" font-family="Liberation Sans" font-size="34.5" font-weight="normal" text-anchor="start">Favours Nifedipine</text>
<text id="t201" transform="translate(1961.13,2135.40) scale(1.0035,1)" font-family="Liberation Sans" font-size="34.5" font-weight="normal" text-anchor="start">Favours Hydralazine</text>
</g>
</svg>
</body></html>
